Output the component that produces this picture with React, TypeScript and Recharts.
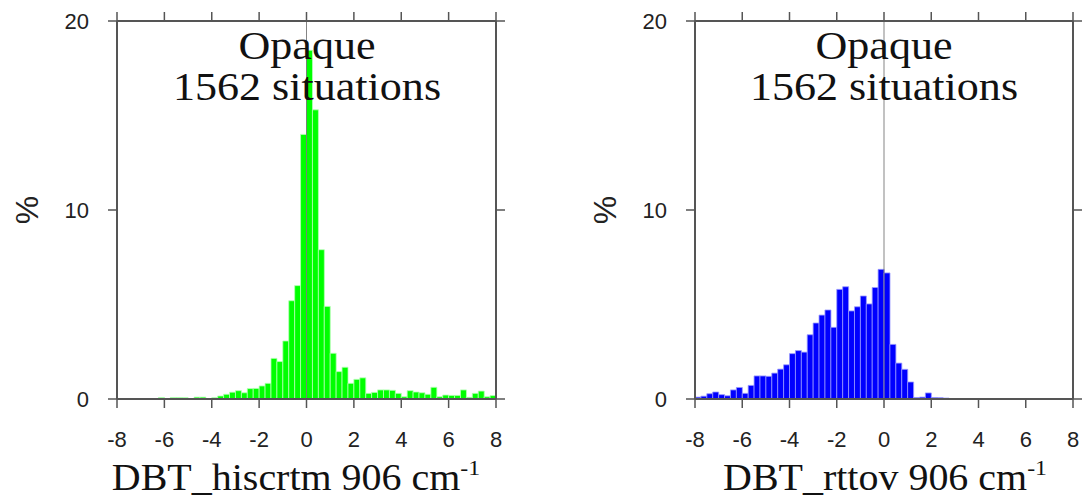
import React from "react";
import { BarChart, Bar, XAxis, YAxis, ReferenceLine } from "recharts";

// bin centres, 0.25 wide, from -8 to 8
const binCenters = [
  -7.875, -7.625, -7.375, -7.125, -6.875, -6.625, -6.375, -6.125,
  -5.875, -5.625, -5.375, -5.125, -4.875, -4.625, -4.375, -4.125,
  -3.875, -3.625, -3.375, -3.125, -2.875, -2.625, -2.375, -2.125,
  -1.875, -1.625, -1.375, -1.125, -0.875, -0.625, -0.375, -0.125,
  0.125, 0.375, 0.625, 0.875, 1.125, 1.375, 1.625, 1.875,
  2.125, 2.375, 2.625, 2.875, 3.125, 3.375, 3.625, 3.875,
  4.125, 4.375, 4.625, 4.875, 5.125, 5.375, 5.625, 5.875,
  6.125, 6.375, 6.625, 6.875, 7.125, 7.375, 7.625, 7.875,
];

// % of situations per bin
const hiscrtm = [
  0, 0, 0, 0, 0, 0, 0, 0.08,
  0, 0.08, 0.08, 0.07, 0, 0.1, 0.1, 0,
  0.07, 0.16, 0.25, 0.36, 0.44, 0.33, 0.55, 0.56,
  0.69, 0.83, 2.15, 1.98, 3.07, 5.2, 6.0, 14.0,
  18.45, 15.3, 7.9, 4.9, 2.42, 1.45, 1.68, 0.83,
  1.04, 1.12, 0.3, 0.35, 0.48, 0.48, 0.46, 0.3,
  0.12, 0.44, 0.37, 0.33, 0.25, 0.62, 0.12, 0.21,
  0.19, 0.19, 0.48, 0.09, 0.3, 0.42, 0.12, 0.18,
];

const rttov = [
  0.1, 0.15, 0.28, 0.37, 0.23, 0.17, 0.48, 0.61,
  0.3, 0.72, 1.22, 1.22, 1.2, 1.37, 1.58, 1.81,
  2.4, 2.56, 2.48, 3.4, 4.02, 4.44, 4.71, 3.79,
  5.8, 5.94, 4.66, 4.88, 5.45, 5.03, 5.9, 6.86,
  6.67, 2.89, 1.9, 1.57, 0.9, 0.08, 0.1, 0.32,
  0.08, 0.07, 0.05, 0, 0, 0, 0, 0,
  0, 0, 0, 0, 0, 0, 0, 0,
  0, 0, 0, 0, 0, 0, 0, 0,
];

const xTicks = [-8, -6, -4, -2, 0, 2, 4, 6, 8];
const yTicks = [0, 10, 20];

const title = "Opaque";
const subtitle = "1562 situations";

const FRAME = "#555";
const SANS = "'Liberation Sans', Arial, Helvetica, sans-serif";
const SERIF = "'Liberation Serif', 'Times New Roman', serif";

interface PanelProps {
  left: number;
  width: number;
  plotLeft: number;
  plotRight: number;
  values: number[];
  fill: string;
  edge: string;
  xName: string;
  xNameCenter: number;
}

function Panel({ left, width, plotLeft, plotRight, values, fill, edge, xName, xNameCenter }: PanelProps) {
  const data = binCenters.map((x, i) => ({ x, v: values[i] }));
  const mid = (plotLeft + plotRight) / 2;
  const blank = () => "";
  const frameLine = { stroke: FRAME, strokeWidth: 2 };
  const tickLine = { stroke: FRAME, strokeWidth: 1.5 };

  return (
    <div style={{ position: "absolute", left, top: 0, width, height: 500 }}>
      <BarChart
        width={width}
        height={500}
        data={data}
        barCategoryGap={0}
        barGap={0}
        margin={{ top: 11, right: width - plotRight - 9, bottom: 41, left: 0 }}
      >
        <XAxis
          dataKey="x"
          type="number"
          domain={[-8, 8]}
          ticks={xTicks}
          allowDataOverflow
          height={60}
          tickSize={9}
          tickMargin={23}
          axisLine={frameLine}
          tickLine={tickLine}
          tick={{ fontSize: 22, fill: "#222" }}
        />
        <XAxis
          xAxisId="top"
          dataKey="x"
          orientation="top"
          type="number"
          domain={[-8, 8]}
          ticks={xTicks}
          allowDataOverflow
          height={10}
          tickSize={9}
          tickFormatter={blank}
          axisLine={frameLine}
          tickLine={tickLine}
        />
        <YAxis
          type="number"
          domain={[0, 20]}
          ticks={yTicks}
          allowDataOverflow
          width={plotLeft}
          tickSize={9}
          tickMargin={19}
          axisLine={frameLine}
          tickLine={tickLine}
          tick={{ fontSize: 22, fill: "#222" }}
        />
        <YAxis
          yAxisId="right"
          dataKey="v"
          orientation="right"
          type="number"
          domain={[0, 20]}
          ticks={yTicks}
          allowDataOverflow
          width={9}
          tickSize={9}
          tickFormatter={blank}
          axisLine={frameLine}
          tickLine={tickLine}
        />
        <Bar dataKey="v" fill={fill} stroke={edge} strokeWidth={0.8} isAnimationActive={false} />
        <ReferenceLine x={0} stroke="#666" strokeOpacity={0.8} strokeWidth={1} />
      </BarChart>

      <div
        style={{
          position: "absolute",
          left: mid - 200,
          top: 25,
          width: 400,
          textAlign: "center",
          fontFamily: SERIF,
          fontSize: 39,
          lineHeight: "41px",
          color: "#111",
          transform: "scaleX(1.13)",
          pointerEvents: "none",
        }}
      >
        <div>{title}</div>
        <div>{subtitle}</div>
      </div>

      <div
        style={{
          position: "absolute",
          left: plotLeft - 90 - 30,
          top: 190,
          width: 60,
          height: 40,
          display: "flex",
          alignItems: "center",
          justifyContent: "center",
          fontFamily: SANS,
          fontSize: 32,
          color: "#222",
          transform: "rotate(-90deg)",
        }}
      >
        %
      </div>

      <div
        style={{
          position: "absolute",
          left: xNameCenter - 250,
          top: 458,
          width: 500,
          textAlign: "center",
          fontFamily: SERIF,
          fontSize: 37,
          lineHeight: "40px",
          color: "#111",
          whiteSpace: "nowrap",
          transform: "scaleX(1.08)",
        }}
      >
        {xName}
        <span style={{ fontSize: 22, position: "relative", top: -15 }}>-1</span>
      </div>
    </div>
  );
}

export default function App() {
  return (
    <div
      style={{
        position: "absolute",
        left: 0,
        top: 0,
        width: 1082,
        height: 500,
        background: "#fff",
        fontFamily: SANS,
        overflow: "hidden",
      }}
    >
      <Panel
        left={0}
        width={540}
        plotLeft={117}
        plotRight={496}
        values={hiscrtm}
        fill="#00ff00"
        edge="#b8ffb8"
        xName="DBT_hiscrtm 906 cm"
        xNameCenter={296}
      />
      <Panel
        left={580}
        width={502}
        plotLeft={115}
        plotRight={493}
        values={rttov}
        fill="#0000ff"
        edge="#9a9aff"
        xName="DBT_rttov 906 cm"
        xNameCenter={305}
      />
    </div>
  );
}
